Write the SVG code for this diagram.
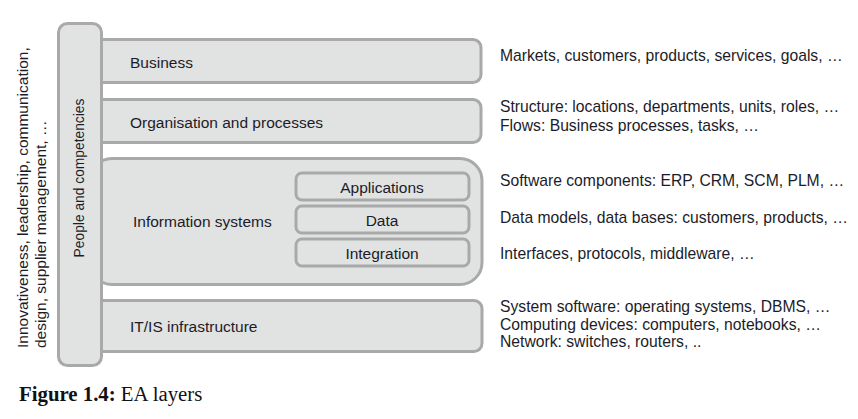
<svg xmlns="http://www.w3.org/2000/svg" width="858" height="419" viewBox="0 0 858 419">
<style>
.bar{fill:#e1e2e2;stroke:#a9a9a9;stroke-width:3}
.inner{fill:#e1e2e2;stroke:#a9a9a9;stroke-width:3}
.t{font-family:"Liberation Sans",Arial,sans-serif;font-size:15.5px;fill:#1c1c28}
.r{font-family:"Liberation Sans",Arial,sans-serif;font-size:15.7px;fill:#1c1c28}
.tc{font-family:"Liberation Sans",Arial,sans-serif;font-size:15.5px;fill:#1c1c28;text-anchor:middle}
.cap{font-family:"Liberation Serif","Times New Roman",serif;font-size:20.8px;fill:#111}
</style>
<rect width="858" height="419" fill="#ffffff"/>
<g id="business">
<rect class="bar" x="90" y="39.5" width="391" height="43" rx="8"/>
<text class="t" x="130" y="68">Business</text>
</g>
<g id="organisation">
<rect class="bar" x="90" y="99.5" width="391" height="43" rx="8"/>
<text class="t" x="130" y="128">Organisation and processes</text>
</g>
<g id="information-systems">
<rect class="bar" x="90" y="158.5" width="392" height="126" rx="22"/>
<text class="t" x="133" y="227">Information systems</text>
</g>
<g id="applications">
<rect class="inner" x="296" y="173" width="173" height="27" rx="6"/>
<text class="tc" x="382" y="193">Applications</text>
</g>
<g id="data">
<rect class="inner" x="296" y="206" width="173" height="27" rx="6"/>
<text class="tc" x="382" y="226">Data</text>
</g>
<g id="integration">
<rect class="inner" x="296" y="239" width="173" height="27" rx="6"/>
<text class="tc" x="382" y="259">Integration</text>
</g>
<g id="itis">
<rect class="bar" x="90" y="300.5" width="392" height="51" rx="8"/>
<text class="t" x="130" y="332">IT/IS infrastructure</text>
</g>
<g id="people">
<rect class="bar" x="58.5" y="23.5" width="43" height="342" rx="9"/>
<text class="tc" style="font-size:13.8px" transform="translate(84,178) rotate(-90)">People and competencies</text>
</g>
<g id="people-notes">
<text class="t" transform="translate(28,348) rotate(-90)">Innovativeness, leadership, communication,</text>
<text class="t" transform="translate(46,348) rotate(-90)">design, supplier management, …</text>
</g>
<g id="descriptions">
<text class="r" x="500" y="61">Markets, customers, products, services, goals, …</text>
<text class="r" x="500" y="112">Structure: locations, departments, units, roles, …</text>
<text class="r" x="500" y="131">Flows: Business processes, tasks, …</text>
<text class="r" x="500" y="186">Software components: ERP, CRM, SCM, PLM, …</text>
<text class="r" x="500" y="223">Data models, data bases: customers, products, …</text>
<text class="r" x="500" y="259">Interfaces, protocols, middleware, …</text>
<text class="r" x="500" y="312">System software: operating systems, DBMS, …</text>
<text class="r" x="500" y="330">Computing devices: computers, notebooks, …</text>
<text class="r" x="500" y="347">Network: switches, routers, ..</text>
</g>
<g id="connectors"></g>
<text class="cap" x="19" y="401"><tspan font-weight="bold">Figure 1.4:</tspan> EA layers</text>
</svg>
